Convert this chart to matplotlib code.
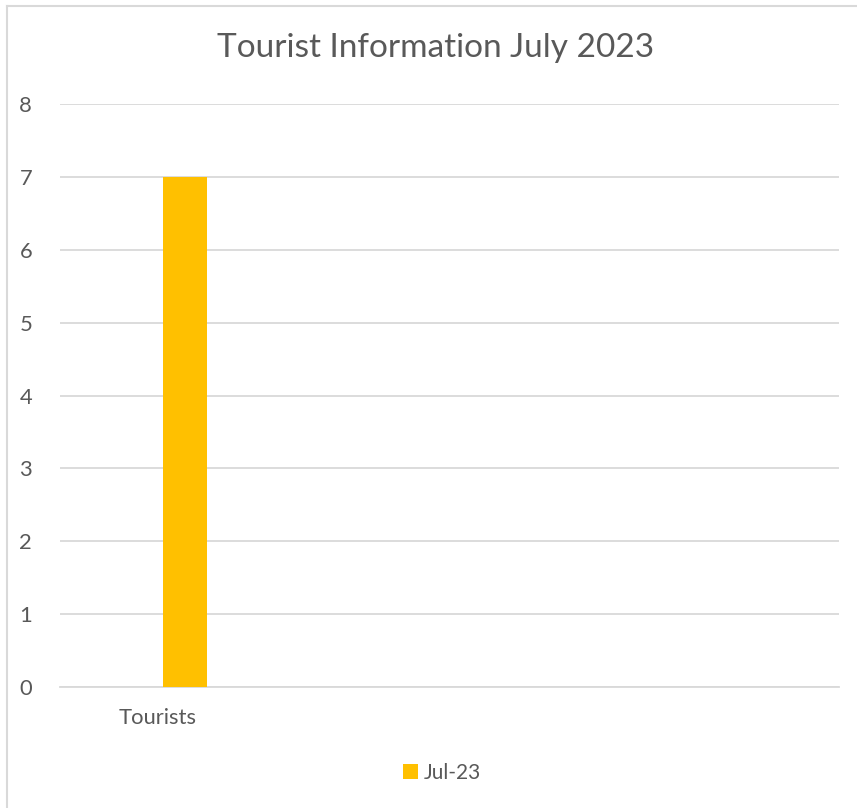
import matplotlib
matplotlib.use("Agg")
import matplotlib.pyplot as plt
from matplotlib.lines import Line2D
from matplotlib.patches import Patch

# data
categories = ["Tourists", "", "", ""]
series_name = "Jul-23"
values = [7, None, None, None]
y_ticks = [0, 1, 2, 3, 4, 5, 6, 7, 8]

text_color = "#595959"
grid_color = "#d9d9d9"
bar_color = "#FFC000"

plt.rcParams["font.family"] = ["Lato", "DejaVu Sans"]

fig = plt.figure(figsize=(8.57, 8.08), dpi=100)
ax = fig.add_axes([60 / 857, 121 / 808, 779 / 857, 583 / 808])

xs = list(range(len(categories)))
bar_offset = 0.144
bar_width = 0.226
for x, v in zip(xs, values):
    if v is not None:
        ax.bar(x + bar_offset, v, width=bar_width, color=bar_color, zorder=3)

ax.set_xlim(-0.5, len(categories) - 0.5)
ax.set_ylim(0, 8)
ax.set_yticks(y_ticks)
ax.set_xticks(xs)
ax.set_xticklabels(categories)
ax.grid(axis="y", color=grid_color, linewidth=1.3, zorder=0)
for s in ["top", "right", "left"]:
    ax.spines[s].set_visible(False)
ax.spines["bottom"].set_color(grid_color)
ax.spines["bottom"].set_linewidth(1.3)
ax.tick_params(axis="both", length=0, labelcolor=text_color, labelsize=15.8)
ax.tick_params(axis="y", pad=20)
ax.tick_params(axis="x", pad=15)

fig.text(436 / 857, 1 - 48 / 808, "Tourist Information July 2023",
         ha="center", va="center", fontsize=24, color=text_color)

handles = [Patch(facecolor=bar_color, edgecolor="none")]
fig.legend(handles, [series_name], loc="center", bbox_to_anchor=(442 / 857, 1 - 773 / 808),
           frameon=False, fontsize=15, labelcolor=text_color,
           handlelength=0.7, handleheight=0.7, handletextpad=0.3)

# chart border (left and top only visible)
fig.add_artist(Line2D([7.5 / 857, 7.5 / 857], [0, 1 - 5.5 / 808], color=grid_color, linewidth=1.5))
fig.add_artist(Line2D([7.5 / 857, 1], [1 - 5.5 / 808, 1 - 5.5 / 808], color=grid_color, linewidth=1.5))

fig.savefig("out.png", dpi=100)
